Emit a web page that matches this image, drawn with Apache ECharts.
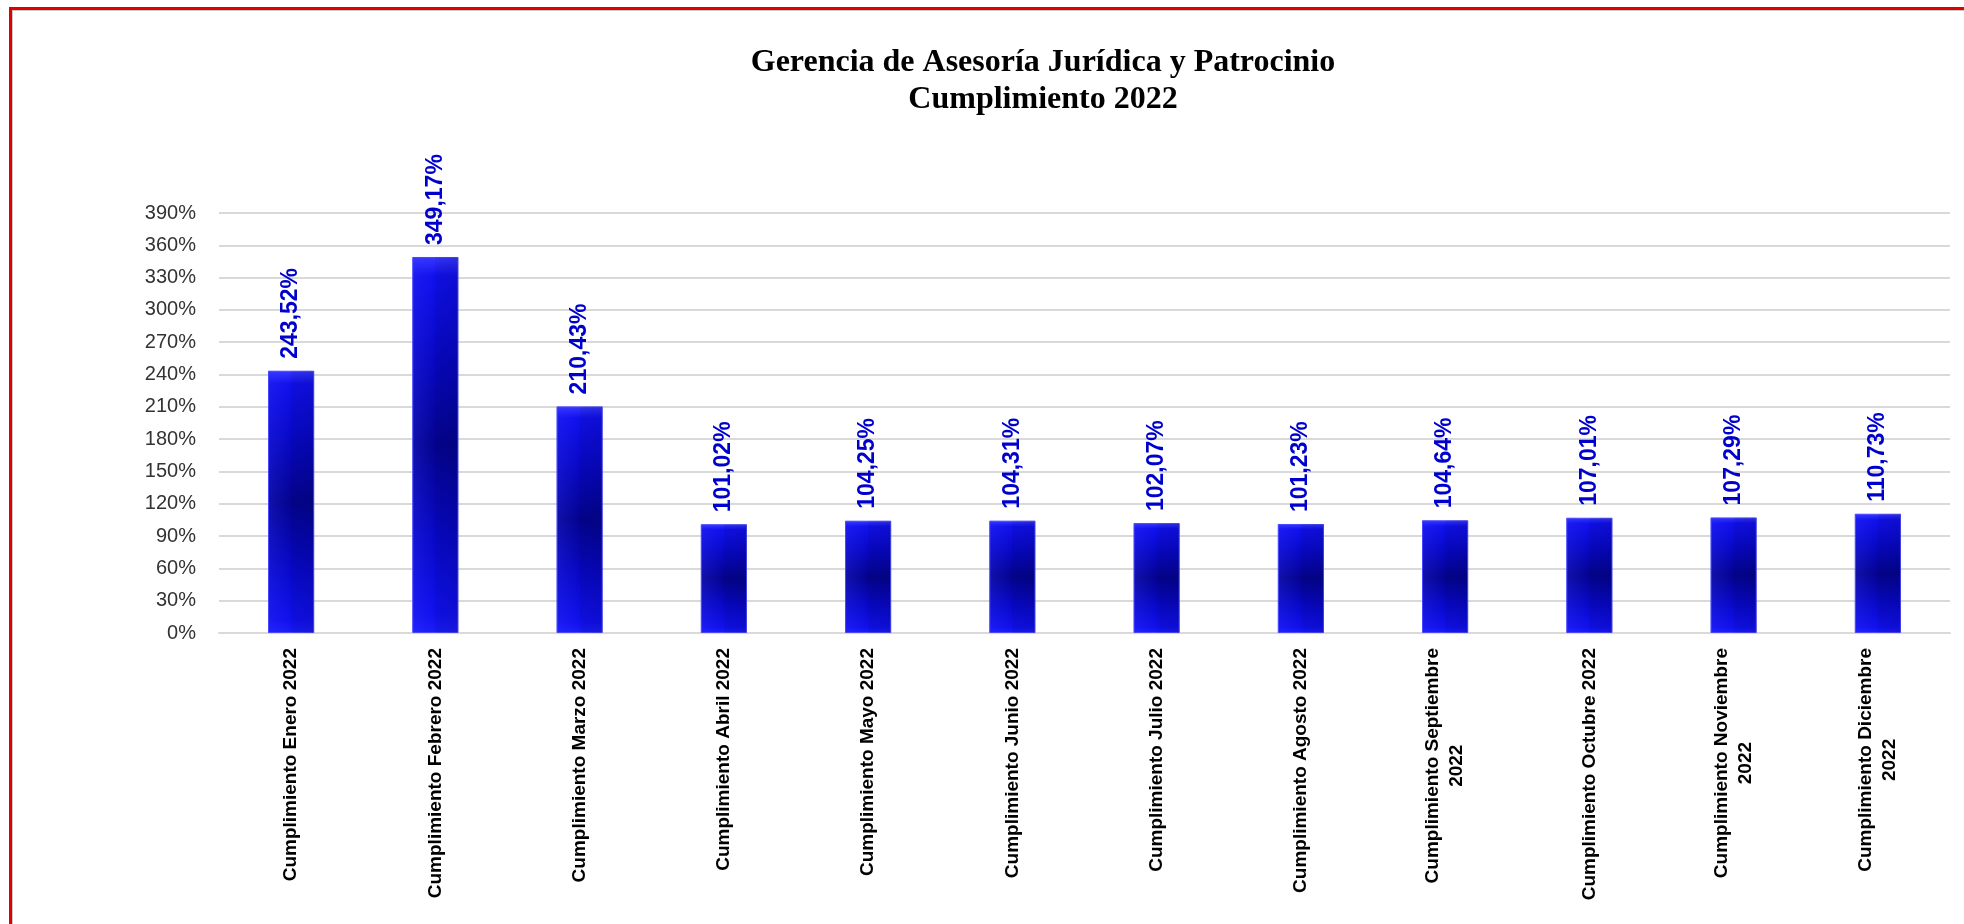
<!DOCTYPE html>
<html>
<head>
<meta charset="utf-8">
<script src="https://cdn.jsdelivr.net/npm/echarts@6/dist/echarts.min.js"></script>
<style>
  html, body { margin: 0; padding: 0; background: #fff; }
  #frame { position: absolute; left: 9px; top: 7px; width: 2000px; height: 1000px;
    border: 3px solid #e00000; box-shadow: inset 1px 1px 0 #c8c8c8; }
  #main { position: absolute; left: 0; top: 0; width: 1964px; height: 924px; }
</style>
</head>
<body>
<div id="frame"></div>
<div id="main"></div>
<script>
// datos del grafico
var meses = ['Cumplimiento Enero 2022', 'Cumplimiento Febrero 2022', 'Cumplimiento Marzo 2022',
  'Cumplimiento Abril 2022', 'Cumplimiento Mayo 2022', 'Cumplimiento Junio 2022',
  'Cumplimiento Julio 2022', 'Cumplimiento Agosto 2022', 'Cumplimiento Septiembre\n2022',
  'Cumplimiento Octubre 2022', 'Cumplimiento Noviembre\n2022', 'Cumplimiento Diciembre\n2022']
var cumplimiento = [243.52, 349.17, 210.43, 101.02, 104.25, 104.31, 102.07, 101.23, 104.64, 107.01, 107.29, 110.73]
var tituloLineas = ['Gerencia de Asesoría Jurídica y Patrocinio', 'Cumplimiento 2022']

var myChart = echarts.init(document.getElementById('main'))

var labelFont = { fontFamily: 'Liberation Sans', fontSize: 19, fontWeight: 'bold', color: '#000' }

myChart.setOption({
  animation: false,
  graphic: [{
    type: 'text',
    x: 1043, y: 44,
    style: {
      text: tituloLineas.join('\n'),
      align: 'center', verticalAlign: 'top',
      font: 'bold 32px "Liberation Serif"',
      lineHeight: 37, fill: '#000'
    }
  }],
  grid: { left: 219, right: 14, top: 213, bottom: 291, outerBoundsMode: 'none' },
  xAxis: {
    type: 'category',
    data: meses,
    axisLine: { lineStyle: { color: '#d9d9d9', width: 2 } },
    axisTick: { show: false },
    axisLabel: {
      interval: 0, rotate: 90, margin: 15,
      // lineas centradas dentro de la etiqueta
      formatter: function (v) {
        return v.split('\n').map(function (s) { return '{c|' + s + '}' }).join('\n')
      },
      rich: { c: Object.assign({ align: 'center', lineHeight: 24 }, labelFont) }
    }
  },
  yAxis: {
    type: 'value',
    min: 0, max: 390, interval: 30,
    axisLine: { show: false },
    axisTick: { show: false },
    splitLine: { lineStyle: { color: '#d9d9d9', width: 2 } },
    axisLabel: {
      margin: 23,
      formatter: '{value}%',
      fontFamily: 'Liberation Sans', fontSize: 20, color: '#333'
    }
  },
  series: [{
    name: 'Cumplimiento',
    type: 'bar',
    data: cumplimiento,
    barWidth: '32%',
    itemStyle: {
      borderColor: '#4a4aff', borderWidth: 1,
      color: new echarts.graphic.LinearGradient(0, 0, 0, 1, [
        { offset: 0, color: '#3838ff' },
        { offset: 0.05, color: '#1010ee' },
        { offset: 0.25, color: '#0808c8' },
        { offset: 0.5, color: '#03038e' },
        { offset: 0.75, color: '#0808c8' },
        { offset: 0.95, color: '#1010ee' },
        { offset: 1, color: '#1c1cf8' }
      ])
    },
    label: {
      show: true, position: 'top', rotate: 90, align: 'left', verticalAlign: 'middle',
      distance: 12,
      fontFamily: 'Liberation Sans', fontSize: 23, fontWeight: 'bold', color: '#0000cc',
      formatter: function (p) { return p.value.toFixed(2).replace('.', ',') + '%' }
    }
  }, {
    // brillo lateral de la barra
    type: 'bar',
    data: cumplimiento,
    barWidth: '32%',
    barGap: '-100%',
    silent: true,
    itemStyle: {
      color: new echarts.graphic.LinearGradient(0, 0, 1, 0, [
        { offset: 0, color: 'rgba(60,60,255,0.25)' },
        { offset: 0.5, color: 'rgba(60,60,255,0)' },
        { offset: 0.5, color: 'rgba(0,0,60,0.08)' },
        { offset: 1, color: 'rgba(0,0,60,0.15)' }
      ])
    }
  }]
})
</script>
</body>
</html>
